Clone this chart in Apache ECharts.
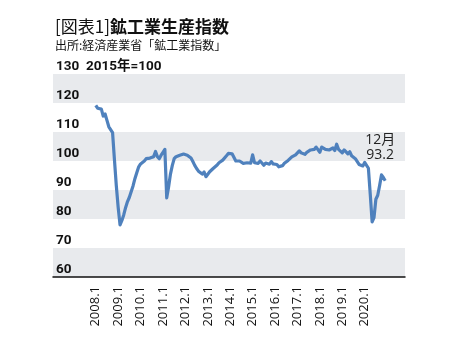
<!DOCTYPE html>
<html>
<head>
<meta charset="utf-8">
<script src="https://cdn.jsdelivr.net/npm/echarts@6/dist/echarts.min.js"></script>
<style>
  html, body { margin: 0; padding: 0; background: #fff; }
  #chart { width: 459px; height: 345px; }
</style>
</head>
<body>
<div id="chart"></div>
<script>
// 鉱工業生産指数（2015年=100）月次、2008年1月〜2020年12月
const startYear = 2008;
const y2008 = [119.2, 118.2, 117.6, 117.9, 115.5, 116.2, 114.0, 111.8, 112.3, 109.8, 100.5, 91.5];
const y2009 = [84.0, 78.0, 79.5, 81.5, 84.0, 86.0, 87.5, 89.5, 91.5, 94.0, 96.0, 98.0];
const y2010 = [99.0, 99.3, 100.0, 100.8, 100.3, 101.0, 100.5, 101.5, 103.3, 101.5, 100.8, 102.0];
const y2011 = [103.0, 104.0, 87.3, 91.0, 95.5, 98.5, 100.8, 101.5, 101.8, 102.0, 101.8, 102.4];
const y2012 = [102.3, 102.0, 102.2, 101.0, 99.8, 98.5, 97.4, 96.5, 96.0, 95.5, 96.2, 94.6];
const y2013 = [95.2, 96.3, 96.6, 97.5, 98.0, 98.6, 99.4, 99.8, 100.3, 100.8, 101.8, 102.6];
const y2014 = [103.2, 102.5, 102.0, 100.0, 100.4, 100.0, 99.8, 99.2, 99.8, 99.4, 99.7, 99.3];
const y2015 = [102.1, 99.4, 99.3, 99.2, 100.0, 99.3, 98.5, 99.3, 99.0, 98.9, 99.8, 99.0];
const y2016 = [98.9, 98.8, 98.0, 98.6, 98.4, 99.2, 99.7, 100.2, 100.8, 101.4, 101.9, 102.1];
const y2017 = [101.5, 103.5, 102.8, 102.5, 102.3, 103.0, 103.2, 103.8, 104.3, 104.0, 104.8, 104.5];
const y2018 = [103.0, 104.8, 104.5, 104.0, 104.2, 103.8, 104.0, 104.5, 103.6, 105.8, 104.0, 103.8];
const y2019 = [102.8, 103.8, 103.5, 102.5, 103.2, 101.8, 101.5, 100.8, 101.0, 98.8, 98.2, 98.3];
const y2020 = [99.5, 99.0, 97.5, 88.5, 79.0, 80.5, 86.8, 88.2, 91.5, 95.2, 94.3, 93.2];

// 横軸の目盛り（各年1月）
const tickMonths = [0, 12, 24, 36, 48, 60, 72, 84, 96, 108, 120, 132, 144];

const monthly = [].concat(y2008, y2009, y2010, y2011, y2012, y2013, y2014,
                          y2015, y2016, y2017, y2018, y2019, y2020);
const lastIdx = monthly.length - 1;
const lastMonth = (lastIdx % 12) + 1;
const seriesData = monthly.map((v, i) => [i, v]);

const FONT = 'Noto Sans CJK JP';
const NUM_FONT = "'Open Sans', 'Noto Sans CJK JP', sans-serif";
const BOLD_FONT = "Roboto, 'Noto Sans CJK JP', sans-serif";
const chart = echarts.init(document.getElementById('chart'), null, { renderer: 'canvas' });

chart.setOption({
  animation: false,
  backgroundColor: '#fff',
  textStyle: { fontFamily: FONT },
  title: {
    left: 50, top: 13,
    text: '{n|[図表1]}{b|鉱工業生産指数}',
    subtext: '出所:経済産業省「鉱工業指数」',
    itemGap: 4,
    textStyle: {
      rich: {
        n: { fontSize: 17, fontWeight: 'normal', color: '#111', fontFamily: FONT },
        b: { fontSize: 17, fontWeight: 'bold', color: '#111', fontFamily: FONT }
      }
    },
    subtextStyle: { fontSize: 12, color: '#111', fontFamily: FONT }
  },
  grid: { left: 53, right: 54, top: 74, bottom: 68 },
  xAxis: {
    type: 'value',
    min: -22.9,
    max: 165.6,
    splitLine: { show: false },
    axisTick: { show: false },
    axisLine: { show: true, lineStyle: { color: '#111', width: 1.5 } },
    axisLabel: {
      customValues: tickMonths,
      rotate: 90,
      margin: 9,
      fontSize: 13,
      color: '#111',
      fontFamily: NUM_FONT,
      formatter: v => (startYear + Math.round(v / 12)) + '.1'
    }
  },
  yAxis: {
    type: 'value',
    min: 60,
    max: 130,
    interval: 10,
    axisLine: { show: false },
    axisTick: { show: false },
    splitLine: { show: false },
    splitArea: { show: true, areaStyle: { color: ['#e8eaed', '#ffffff'] } },
    axisLabel: {
      inside: true,
      margin: 3,
      verticalAlign: 'bottom',
      padding: [0, 0, 1, 0],
      fontSize: 13.5,
      fontWeight: 700,
      color: '#111',
      fontFamily: BOLD_FONT,
      formatter: v => v === 130 ? '130  2015年=100' : String(v)
    }
  },
  series: [{
    type: 'line',
    data: seriesData,
    showSymbol: false,
    symbol: 'none',
    lineStyle: { color: '#4f81bd', width: 3.2, join: 'round' },
    z: 3,
    markPoint: {
      symbol: 'circle',
      symbolSize: 0,
      silent: true,
      data: [{
        coord: [lastIdx, monthly[lastIdx]],
        value: monthly[lastIdx]
      }],
      label: {
        show: true,
        position: 'top',
        distance: 18,
        offset: [-5, 0],
        align: 'center',
        formatter: p => lastMonth + '月\n' + Number(p.value).toFixed(1),
        fontSize: 14,
        lineHeight: 15,
        color: '#222',
        fontFamily: NUM_FONT
      }
    }
  }]
});
</script>
</body>
</html>
